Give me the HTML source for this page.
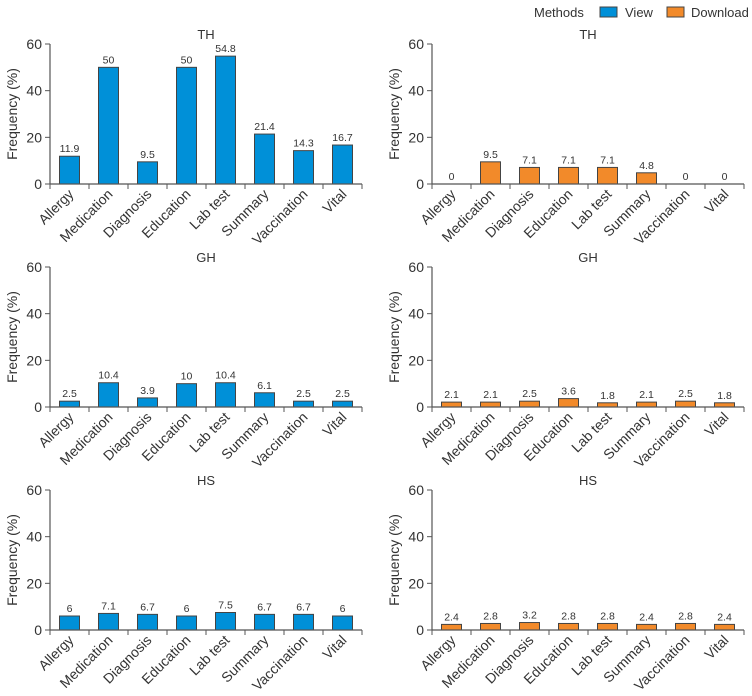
<!DOCTYPE html>
<html><head><meta charset="utf-8"><style>
body{margin:0;background:#fff;}
svg text{font-family:"Liberation Sans",Arial,sans-serif;fill:#333;}
</style></head><body>
<svg id="c" width="752" height="691" xmlns="http://www.w3.org/2000/svg">
<g>
<text x="534" y="17" font-size="13">Methods</text>
<rect x="600" y="7" width="17" height="10" fill="#0090d8" stroke="#444" stroke-width="1"/>
<text x="625" y="17" font-size="13">View</text>
<rect x="667" y="7" width="17" height="10" fill="#f28a2a" stroke="#444" stroke-width="1"/>
<text x="691" y="17" font-size="13">Download</text>
</g>
</svg>
<script>
const categories=["Allergy","Medication","Diagnosis","Education","Lab test","Summary","Vaccination","Vital"];
const panelTitles=["TH","GH","HS"];
const yTicks=[0,20,40,60];
const viewTH=[11.9,50,9.5,50,54.8,21.4,14.3,16.7];
const viewGH=[2.5,10.4,3.9,10,10.4,6.1,2.5,2.5];
const viewHS=[6,7.1,6.7,6,7.5,6.7,6.7,6];
const downTH=[0,9.5,7.1,7.1,7.1,4.8,0,0];
const downGH=[2.1,2.1,2.5,3.6,1.8,2.1,2.5,1.8];
const downHS=[2.4,2.8,3.2,2.8,2.8,2.4,2.8,2.4];
const svg=document.getElementById('c');
const NS="http://www.w3.org/2000/svg";
function mk(t,a,p){const e=document.createElementNS(NS,t);for(const k in a)e.setAttribute(k,a[k]);(p||svg).appendChild(e);return e;}
const rows=[[viewTH,downTH],[viewGH,downGH],[viewHS,downHS]];
rows.forEach((pair,r)=>{
 pair.forEach((vals,c)=>{
  const x0=c===0?50:432, w=312, y0=184+r*223, h=140;
  const xs=i=>x0+w/8*(i+0.5);
  const ys=v=>y0-v/60*h;
  const color=c===0?"#0090d8":"#f28a2a";
  const g=mk('g',{});
  
  
  const t=mk('text',{x:x0+w/2,y:y0-h-5,'font-size':13,'text-anchor':'middle'},g);t.textContent=panelTitles[r];
  
  
  const yl=mk('text',{x:0,y:0,'font-size':14,'text-anchor':'middle',transform:`translate(${x0-33},${y0-h/2}) rotate(-90)`},g);yl.textContent="Frequency (%)";
  
  
  vals.forEach((v,i)=>{
   const bw=20;
   if(v>0){const b=mk('rect',{x:xs(i)-bw/2,y:ys(v),width:bw,height:y0-ys(v),fill:color,stroke:'#444','stroke-width':1},g);
    
    }
   const vl=mk('text',{x:xs(i),y:ys(v)-4,'font-size':10.5,'text-anchor':'middle'},g);vl.textContent=String(v);
   
   
   const cl=mk('text',{x:0,y:0,'font-size':14,'text-anchor':'end',transform:`translate(${xs(i)+5},${y0+11}) rotate(-45)`},g);cl.textContent=categories[i];
   
   
  });
  mk('line',{x1:x0,y1:y0,x2:x0+w,y2:y0,stroke:'#555','stroke-width':1.2},g);
  mk('line',{x1:x0,y1:y0,x2:x0,y2:y0-h,stroke:'#555','stroke-width':1.2},g);
  for(let i=0;i<=8;i++)mk('line',{x1:x0+w/8*i,y1:y0,x2:x0+w/8*i,y2:y0+5,stroke:'#555','stroke-width':1},g);
  yTicks.forEach(tv=>{
   mk('line',{x1:x0-5,y1:ys(tv),x2:x0,y2:ys(tv),stroke:'#555','stroke-width':1},g);
   const tl=mk('text',{x:x0-8,y:ys(tv)+5,'font-size':14,'text-anchor':'end'},g);tl.textContent=tv;
   
   
  });
 });
});
</script>
</body></html>
